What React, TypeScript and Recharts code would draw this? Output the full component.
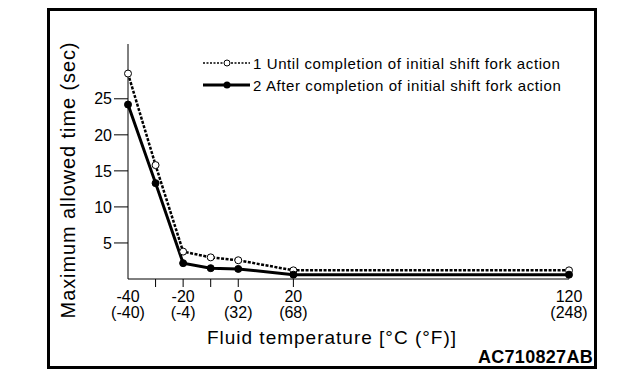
import { Legend, Line, LineChart, XAxis, YAxis } from "recharts";

const temperatureC = [-40, -30, -20, -10, 0, 20, 120];
const untilInitialAction = [28.5, 15.8, 3.8, 3.0, 2.6, 1.2, 1.2];
const afterInitialAction = [24.2, 13.3, 2.2, 1.5, 1.4, 0.6, 0.6];
const seriesNames = [
  "1 Until completion of initial shift fork action",
  "2 After completion of initial shift fork action",
];

const xTickValues = [-40, -30, -20, -10, 0, 20, 120];
const xTickMarks = [-30, -20, -10, 0, 20];
const xLabelsC = ["-40", "", "-20", "", "0", "20", "120"];
const xLabelsF = ["(-40)", "", "(-4)", "", "(32)", "(68)", "(248)"];
const yTicks = [5, 10, 15, 20, 25];

const data = temperatureC.map((t, i) => ({
  t,
  until: untilInitialAction[i],
  after: afterInitialAction[i],
}));

const font = '"Liberation Sans", Arial, sans-serif';

function TempTick(props: any) {
  const { x, y, payload } = props;
  const i = xTickValues.indexOf(payload.value);
  return (
    <g>
      {xTickMarks.includes(payload.value) && (
        <line x1={x} x2={x} y1={y} y2={y + 8} stroke="#000" strokeWidth={1} />
      )}
      <text x={x} y={y + 17} textAnchor="middle" dominantBaseline="central" fontSize={16} fill="#000" fontFamily={font}>
        {xLabelsC[i]}
      </text>
      <text x={x} y={y + 33} textAnchor="middle" dominantBaseline="central" fontSize={16} fill="#000" fontFamily={font}>
        {xLabelsF[i]}
      </text>
    </g>
  );
}

function FluidLegend() {
  return (
    <div style={{ fontFamily: font, fontSize: 15, letterSpacing: 0.6, color: "#000" }}>
      {seriesNames.map((name, i) => (
        <div key={name} style={{ display: "flex", alignItems: "center", height: 22 }}>
          <svg width={50} height={22}>
            {i === 0 ? (
              <>
                <line x1={0} x2={47} y1={11} y2={11} stroke="#000" strokeWidth={1.5} strokeDasharray="2 1.5" />
                <circle cx={24} cy={11} r={3} fill="#fff" stroke="#000" strokeWidth={1} />
              </>
            ) : (
              <>
                <line x1={0} x2={47} y1={11} y2={11} stroke="#000" strokeWidth={3} />
                <circle cx={24} cy={11} r={3.5} fill="#000" />
              </>
            )}
          </svg>
          <span>{name}</span>
        </div>
      ))}
    </div>
  );
}

export default function App() {
  return (
    <div style={{ position: "fixed", left: 0, top: 0, width: 640, height: 380, background: "#fff" }}>
      <div
        style={{
          position: "absolute",
          left: 47,
          top: 8,
          width: 550,
          height: 361,
          border: "3px solid #000",
          boxSizing: "border-box",
        }}
      />
      <LineChart
        width={640}
        height={380}
        data={data}
        margin={{ top: 44, right: 71, bottom: 61, left: 78 }}
        style={{ position: "absolute", left: 0, top: 0 }}
      >
        <XAxis
          dataKey="t"
          type="number"
          domain={[-40, 120]}
          ticks={xTickValues}
          interval={0}
          tickLine={false}
          tickSize={0}
          tickMargin={0}
          height={40}
          axisLine={{ stroke: "#000", strokeWidth: 1 }}
          tick={<TempTick />}
        />
        <XAxis
          xAxisId="top"
          orientation="top"
          type="number"
          domain={[-40, 120]}
          tick={false}
          tickLine={false}
          height={0}
          axisLine={{ stroke: "#000", strokeWidth: 1 }}
        />
        <YAxis
          type="number"
          domain={[0, 32.6]}
          ticks={yTicks}
          width={50}
          tickSize={14}
          tickMargin={2}
          tickLine={{ stroke: "#000", strokeWidth: 1 }}
          axisLine={{ stroke: "#000", strokeWidth: 1 }}
          tick={{ fill: "#000", fontSize: 16, fontFamily: font }}
        />
        <YAxis
          yAxisId="right"
          orientation="right"
          type="number"
          domain={[0, 32.6]}
          tick={false}
          tickLine={false}
          width={0}
          axisLine={{ stroke: "#000", strokeWidth: 1 }}
        />
        <Legend
          layout="vertical"
          align="center"
          verticalAlign="middle"
          wrapperStyle={{ position: "absolute", left: 203, top: 52, width: 390 }}
          content={() => <FluidLegend />}
        />
        <Line
          dataKey="until"
          name={seriesNames[0]}
          stroke="#000"
          strokeWidth={2.5}
          strokeDasharray="3 1.5"
          dot={{ r: 3.5, fill: "#fff", stroke: "#000", strokeWidth: 1, strokeDasharray: "" }}
          isAnimationActive={false}
        />
        <Line
          dataKey="after"
          name={seriesNames[1]}
          stroke="#000"
          strokeWidth={3}
          dot={{ r: 3.5, fill: "#000", stroke: "#000", strokeWidth: 1 }}
          isAnimationActive={false}
        />
      </LineChart>
      <div
        style={{
          position: "absolute",
          left: 68 - 160,
          top: 180 - 12,
          width: 320,
          height: 24,
          lineHeight: "24px",
          textAlign: "center",
          transform: "rotate(-90deg)",
          fontFamily: font,
          fontSize: 20,
          letterSpacing: 0.9,
          whiteSpace: "nowrap",
        }}
      >
        Maximum allowed time (sec)
      </div>
      <div
        style={{
          position: "absolute",
          left: 332 - 160,
          top: 338 - 12,
          width: 320,
          height: 24,
          lineHeight: "24px",
          textAlign: "center",
          fontFamily: font,
          fontSize: 19,
          letterSpacing: 1,
          whiteSpace: "nowrap",
        }}
      >
        Fluid temperature [°C (°F)]
      </div>
      <div
        style={{
          position: "absolute",
          right: 640 - 593,
          top: 357 - 11,
          height: 22,
          lineHeight: "22px",
          fontFamily: font,
          fontSize: 18,
          fontWeight: "bold",
          letterSpacing: 0.3,
          whiteSpace: "nowrap",
        }}
      >
        AC710827AB
      </div>
    </div>
  );
}
